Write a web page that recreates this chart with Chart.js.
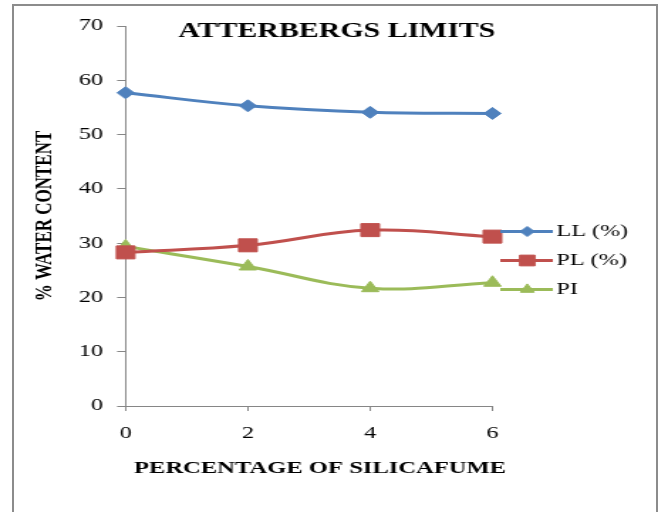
<!DOCTYPE html>
<html>
<head>
<meta charset="utf-8">
<script src="https://cdn.jsdelivr.net/npm/chart.js@4/dist/chart.umd.min.js"></script>
<style>
  html, body { margin: 0; padding: 0; background: #fff; overflow: hidden; }
  #frame { position: absolute; left: 12px; top: 4px; width: 642px; height: 600px; border: 2px solid #8c8c8c; }
  #wrap { position: absolute; left: 0; top: 0; width: 463px; height: 512px; transform: scaleX(1.4212); transform-origin: 0 0; }
</style>
</head>
<body>
<div id="frame"></div>
<div id="wrap"><canvas id="c" width="463" height="512"></canvas></div>
<script>
// Atterberg limits against silica fume content
const silicaFume      = [0, 2, 4, 6];
const liquidLimit     = [57.7, 55.3, 54.1, 53.9];
const plasticLimit    = [28.3, 29.6, 32.4, 31.2];
const plasticityIndex = [29.4, 25.7, 21.7, 22.7];
const seriesNames     = ['LL (%)', 'PL (%)', 'PI'];
const xTickValues     = [0, 2, 4, 6];
const yTickValues     = [0, 10, 20, 30, 40, 50, 60, 70];

const chartTitle = 'ATTERBERGS LIMITS';
const xTitle = 'PERCENTAGE OF SILICAFUME';
const yTitle = '% WATER CONTENT';

const serif = '"Liberation Serif", "Times New Roman", serif';
const axisGray = '#868686';

const toPoints = vals => silicaFume.map((x, i) => ({ x, y: vals[i] }));

const seriesStyles = [
  { color: '#4F81BD', pointStyle: 'rectRot', radius: 6, legendRadius: 5 },
  { color: '#C0504D', pointStyle: 'rect', radius: 9.2, legendRadius: 7.6 },
  { color: '#9BBB59', pointStyle: 'triangle', radius: 7, legendRadius: 5.6 }
];
const seriesValues = [liquidLimit, plasticLimit, plasticityIndex];

const datasets = seriesValues.map((vals, i) => ({
  label: seriesNames[i],
  data: toPoints(vals),
  borderColor: seriesStyles[i].color,
  backgroundColor: seriesStyles[i].color,
  pointBackgroundColor: seriesStyles[i].color,
  pointBorderColor: seriesStyles[i].color,
  pointStyle: seriesStyles[i].pointStyle,
  pointRadius: seriesStyles[i].radius,
  pointBorderWidth: 1,
  borderWidth: 3,
  tension: 0.4,
  fill: false,
  clip: false
}));

// Title, x-axis caption and a line-and-marker legend drawn on top
const decorations = {
  id: 'decorations',
  afterDraw(chart) {
    const ctx = chart.ctx;
    ctx.save();
    ctx.fillStyle = '#000';
    ctx.textAlign = 'center';
    ctx.textBaseline = 'middle';
    ctx.font = 'bold 21px ' + serif;
    ctx.fillText(chartTitle, 237, 32);
    ctx.font = 'bold 17.3px ' + serif;
    ctx.fillText(xTitle, 225.2, 469);

    const rowY = 231.5, rowGap = 29;
    chart.data.datasets.forEach((ds, i) => {
      const y = rowY + i * rowGap;
      ctx.strokeStyle = ds.borderColor;
      ctx.lineWidth = 3;
      ctx.beginPath();
      ctx.moveTo(352, y);
      ctx.lineTo(389, y);
      ctx.stroke();
      ctx.fillStyle = ds.pointBackgroundColor;
      ctx.strokeStyle = ds.pointBorderColor;
      ctx.lineWidth = 1;
      Chart.helpers.drawPoint(ctx, { pointStyle: ds.pointStyle, radius: seriesStyles[i].legendRadius, borderWidth: 1, rotation: 0 }, 371, y);
      ctx.fillStyle = '#000';
      ctx.textAlign = 'left';
      ctx.font = '17px ' + serif;
      ctx.fillText(ds.label, 391.5, y);
    });
    ctx.restore();
  }
};

new Chart(document.getElementById('c'), {
  type: 'line',
  data: { datasets },
  plugins: [decorations],
  options: {
    responsive: false,
    animation: false,
    devicePixelRatio: 1,
    layout: { padding: { left: 0, top: 26, right: 116.5, bottom: 0 } },
    plugins: {
      legend: { display: false },
      tooltip: { enabled: false },
      title: { display: false }
    },
    scales: {
      x: {
        type: 'linear',
        min: 0,
        max: 6,
        afterBuildTicks: s => { s.ticks = xTickValues.map(v => ({ value: v })); },
        afterFit: s => { s.height = 106; },
        ticks: { color: '#000', font: { family: serif, size: 17 }, padding: 12, maxRotation: 0 },
        grid: { drawOnChartArea: false, drawTicks: true, tickLength: 5, color: axisGray },
        border: { color: axisGray, width: 1 }
      },
      y: {
        type: 'linear',
        min: 0,
        max: 70,
        afterBuildTicks: s => { s.ticks = yTickValues.map(v => ({ value: v })); },
        afterFit: s => { s.width = 88.4; },
        ticks: { color: '#000', font: { family: serif, size: 17 }, padding: 10 },
        grid: { drawOnChartArea: false, drawTicks: true, tickLength: 6, color: axisGray },
        border: { color: axisGray, width: 1 },
        title: {
          display: true,
          text: yTitle,
          color: '#000',
          font: { family: serif, size: 17, weight: 'bold' },
          padding: { top: 21, bottom: 0 }
        }
      }
    }
  }
});
</script>
</body>
</html>
